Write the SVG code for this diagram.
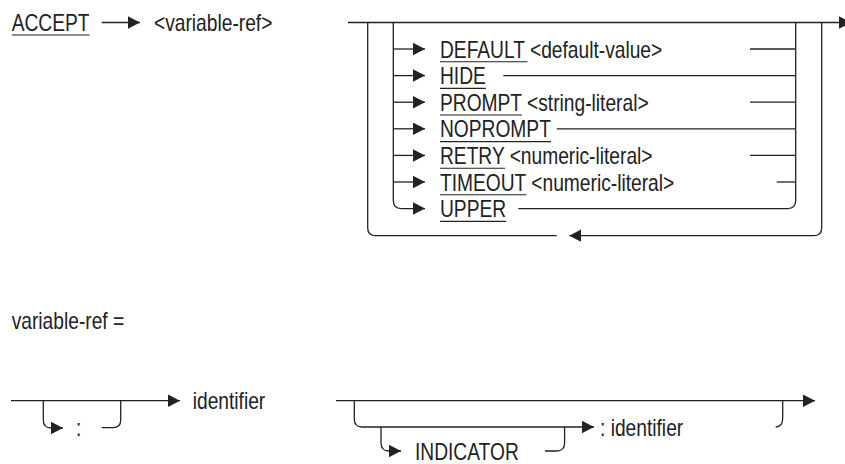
<svg xmlns="http://www.w3.org/2000/svg" width="845" height="464" viewBox="0 0 845 464">
<style>
  .t{font-family:"Liberation Sans",Arial,sans-serif;font-size:24px;fill:#222}
  .c{fill:none;stroke:#222;stroke-width:1.3}
  .u{stroke:#222;stroke-width:1.1}
</style>
<defs>
  <marker id="ah" markerUnits="userSpaceOnUse" markerWidth="13" markerHeight="13" refX="12" refY="6.25" orient="auto">
    <path d="M0,0 L12,6.25 L0,12.5 Z" fill="#222"/>
  </marker>
</defs>
<rect width="845" height="464" fill="#fff"/>

<!-- nodes -->
<g id="accept"><text class="t" transform="translate(11.7,31) scale(0.8,1)">ACCEPT</text><line class="u" x1="11.7" y1="35" x2="89.6" y2="35"/></g>
<g id="varref"><text class="t" transform="translate(154,31) scale(0.8,1)">&lt;variable-ref&gt;</text></g>
<g id="default"><text class="t" transform="translate(440,57.5) scale(0.8,1)">DEFAULT &lt;default-value&gt;</text><line class="u" x1="440" y1="61.8" x2="527.5" y2="61.8"/></g>
<g id="hide"><text class="t" transform="translate(440,84.1) scale(0.8,1)">HIDE</text><line class="u" x1="440" y1="88.4" x2="485.9" y2="88.4"/></g>
<g id="prompt"><text class="t" transform="translate(440,110.7) scale(0.8,1)">PROMPT &lt;string-literal&gt;</text><line class="u" x1="440" y1="115" x2="522.1" y2="115"/></g>
<g id="noprompt"><text class="t" transform="translate(440,137.3) scale(0.8,1)">NOPROMPT</text><line class="u" x1="440" y1="141.6" x2="550.9" y2="141.6"/></g>
<g id="retry"><text class="t" transform="translate(440,163.9) scale(0.8,1)">RETRY &lt;numeric-literal&gt;</text><line class="u" x1="440" y1="168.2" x2="505.1" y2="168.2"/></g>
<g id="timeout"><text class="t" transform="translate(440,190.5) scale(0.8,1)">TIMEOUT &lt;numeric-literal&gt;</text><line class="u" x1="440" y1="194.8" x2="526.4" y2="194.8"/></g>
<g id="upper"><text class="t" transform="translate(440,217.1) scale(0.8,1)">UPPER</text><line class="u" x1="440" y1="221.4" x2="506.1" y2="221.4"/></g>
<g id="vrdef"><text class="t" transform="translate(11.7,329) scale(0.8,1)">variable-ref =</text></g>
<g id="identifier1"><text class="t" transform="translate(192.7,408.5) scale(0.8,1)">identifier</text></g>
<g id="colon"><text class="t" transform="translate(76,436) scale(0.8,1)">:</text></g>
<g id="indicator"><text class="t" transform="translate(415,459.5) scale(0.8,1)">INDICATOR</text></g>
<g id="identifier2"><text class="t" transform="translate(600,435.5) scale(0.8,1)">: identifier</text></g>

<!-- connectors -->
<g id="connectors">
  <line class="c" x1="101.7" y1="22.5" x2="140" y2="22.5" marker-end="url(#ah)"/>
  <line class="c" x1="348" y1="22.5" x2="851" y2="22.5" marker-end="url(#ah)"/>
  <!-- inner loop -->
  <path class="c" d="M393.3,22.5 V200.6 Q393.3,208.6 401.3,208.6 H425" marker-end="url(#ah)"/>
  <line class="c" x1="393.3" y1="49" x2="425" y2="49" marker-end="url(#ah)"/>
  <line class="c" x1="393.3" y1="75.6" x2="425" y2="75.6" marker-end="url(#ah)"/>
  <line class="c" x1="393.3" y1="102.2" x2="425" y2="102.2" marker-end="url(#ah)"/>
  <line class="c" x1="393.3" y1="128.8" x2="425" y2="128.8" marker-end="url(#ah)"/>
  <line class="c" x1="393.3" y1="155.4" x2="425" y2="155.4" marker-end="url(#ah)"/>
  <line class="c" x1="393.3" y1="182" x2="425" y2="182" marker-end="url(#ah)"/>
  <path class="c" d="M795.7,22.5 V200.6 Q795.7,208.6 787.7,208.6 H518.3"/>
  <line class="c" x1="750" y1="49" x2="795.7" y2="49"/>
  <line class="c" x1="503.3" y1="75.6" x2="795.7" y2="75.6"/>
  <line class="c" x1="750" y1="102.2" x2="795.7" y2="102.2"/>
  <line class="c" x1="556.7" y1="128.8" x2="795.7" y2="128.8"/>
  <line class="c" x1="750" y1="155.4" x2="795.7" y2="155.4"/>
  <line class="c" x1="776.7" y1="182" x2="795.7" y2="182"/>
  <!-- outer loop -->
  <path class="c" d="M367.7,22.5 V227.7 Q367.7,235.7 375.7,235.7 H556.7"/>
  <path class="c" d="M821.7,22.5 V227.7 Q821.7,235.7 813.7,235.7 H569.3" marker-end="url(#ah)"/>
  <!-- variable-ref left -->
  <line class="c" x1="11" y1="400.7" x2="180" y2="400.7" marker-end="url(#ah)"/>
  <path class="c" d="M43.3,400.7 V420 Q43.3,428 51.3,428 H63" marker-end="url(#ah)"/>
  <path class="c" d="M101.7,427.7 H113 Q120.7,427.7 120.7,420 V400.7"/>
  <!-- variable-ref right -->
  <line class="c" x1="336" y1="400.7" x2="815" y2="400.7" marker-end="url(#ah)"/>
  <path class="c" d="M354.3,400.7 V419 Q354.3,427 362.3,427 H594" marker-end="url(#ah)"/>
  <path class="c" d="M381,427 V443 Q381,451 389,451 H401" marker-end="url(#ah)"/>
  <path class="c" d="M545,451 H556.6 Q564.6,451 564.6,443 V427"/>
  <path class="c" d="M782.7,400.7 V418 Q782.7,427 775.7,427"/>
</g>
</svg>
